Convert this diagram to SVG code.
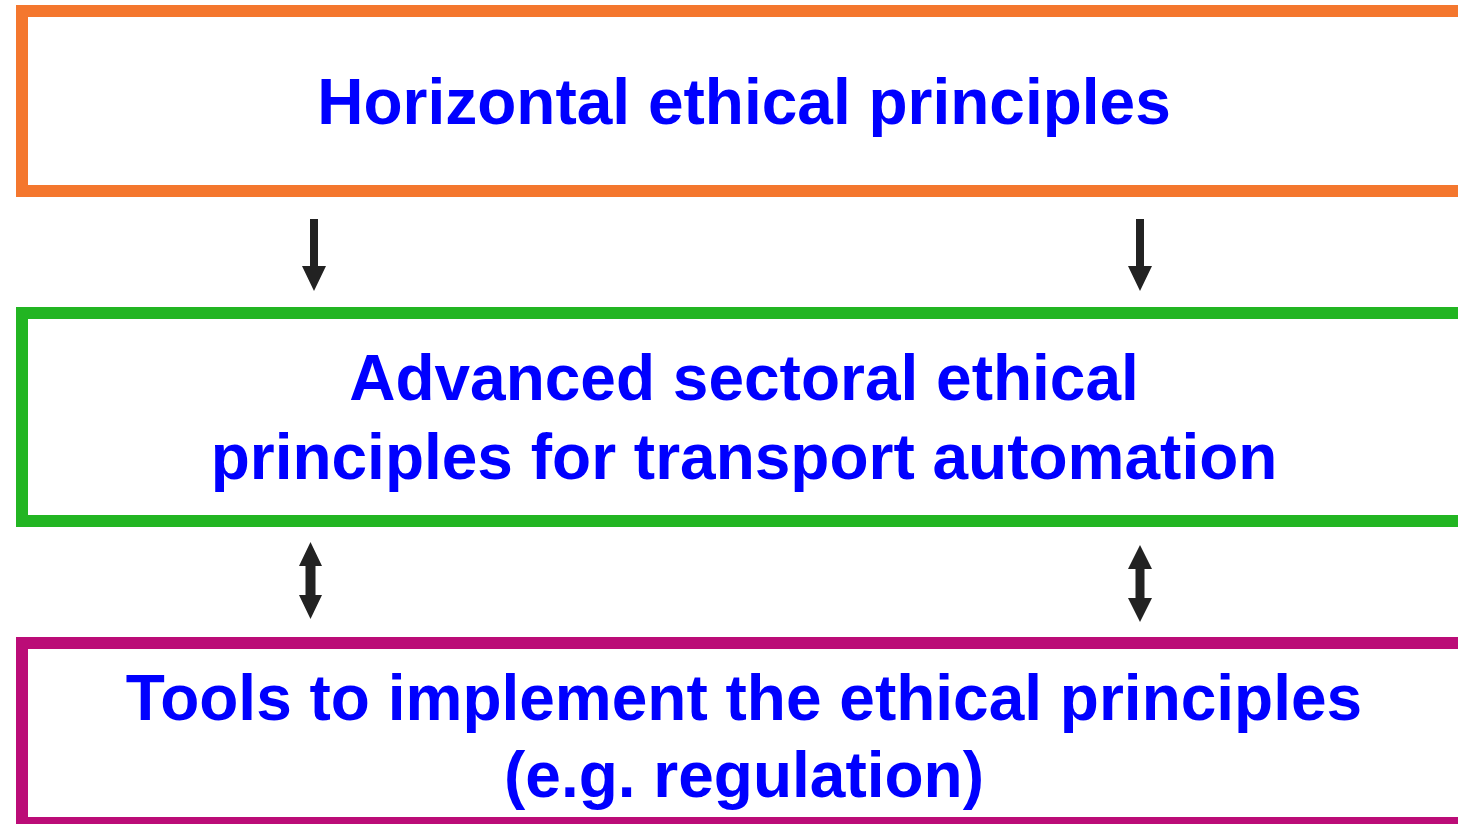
<svg xmlns="http://www.w3.org/2000/svg" width="1458" height="824" viewBox="0 0 1458 824">
<style>
.box{fill:#fff;stroke-width:12}
.t{font-family:"Liberation Sans",Arial,sans-serif;font-weight:bold;font-size:64px;fill:#0000FF;text-anchor:middle}
.ar{fill:#222}
</style>
<rect width="1458" height="824" fill="#fff"/>
<g id="node-horizontal">
<rect class="box" x="22" y="11" width="1450" height="180" stroke="#F4772E"/>
<text class="t" x="744" y="124">Horizontal ethical principles</text>
</g>
<g id="node-sectoral">
<rect class="box" x="22" y="313" width="1450" height="208" stroke="#22B522"/>
<text class="t" x="744" y="400">Advanced sectoral ethical</text>
<text class="t" x="744" y="479">principles for transport automation</text>
</g>
<g id="node-tools">
<rect class="box" x="22" y="643" width="1450" height="180" stroke="#BB0C77"/>
<text class="t" x="744" y="720">Tools to implement the ethical principles</text>
<text class="t" x="744" y="797">(e.g. regulation)</text>
</g>
<g id="connectors">
<polygon class="ar" points="310,219 318,219 318,266 326,266 314,291 302,266 310,266"/>
<polygon class="ar" points="1136,219 1144,219 1144,266 1152,266 1140,291 1128,266 1136,266"/>
<polygon class="ar" points="310.5,542 322,566 315.5,566 315.5,595 322,595 310.5,619 299,595 305.5,595 305.5,566 299,566"/>
<polygon class="ar" points="1140,545 1152,569 1144.5,569 1144.5,598 1152,598 1140,622 1128,598 1135.5,598 1135.5,569 1128,569"/>
</g>
</svg>
